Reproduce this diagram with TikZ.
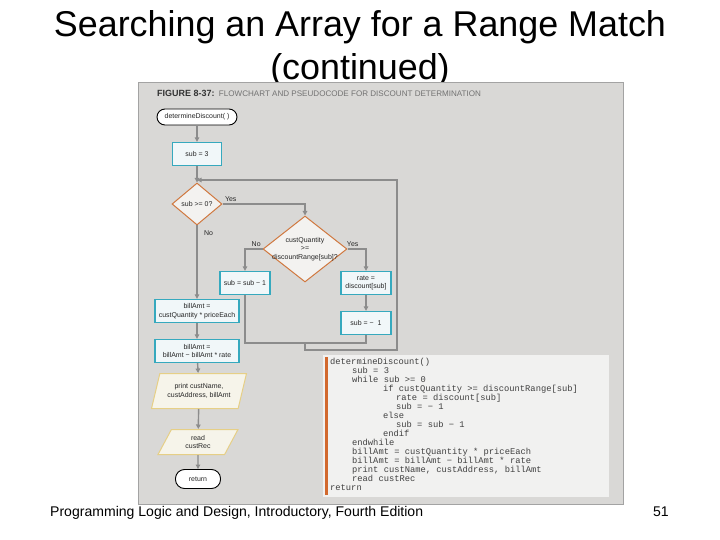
\documentclass[tikz,border=0pt]{standalone}
\usepackage{fontspec}
\setmainfont{Liberation Sans}
\setmonofont{Liberation Mono}
\usepackage{tikz}
\usetikzlibrary{shapes.geometric,arrows.meta}
\definecolor{panelgray}{HTML}{D9D8D6}
\definecolor{panelline}{HTML}{A3A3A3}
\definecolor{flowline}{HTML}{8C8C8C}
\definecolor{boxline}{HTML}{36A9BE}
\definecolor{boxfill}{HTML}{F1F7F9}
\definecolor{decline}{HTML}{D0783F}
\definecolor{decfill}{HTML}{F3F2F0}
\definecolor{ioline}{HTML}{E6CF86}
\definecolor{iofill}{HTML}{F6F4EA}
\definecolor{codefill}{HTML}{F1F1F0}
\definecolor{codebar}{HTML}{D2692E}
\newcommand{\codeind}[1]{\hspace*{#1bp}}

\begin{document}
\begin{tikzpicture}[x=1bp,y=-1bp,
      flowtext/.style={font=\fontsize{7}{8.5}\selectfont, text=black!85, align=center, inner sep=0pt},
      procbox/.style={flowtext, draw=boxline, fill=boxfill, line width=1.3bp, minimum height=23bp},
      decision/.style={diamond, draw=decline, fill=decfill, line width=1bp, inner sep=0pt},
      iobox/.style={flowtext, trapezium, trapezium left angle=65, trapezium right angle=115, trapezium stretches=true, draw=ioline, fill=iofill, line width=1bp},
      termbox/.style={flowtext, draw=black, fill=white, rounded corners=8bp, line width=0.9bp},
      branch/.style={font=\fontsize{7}{8}\selectfont, text=black!85, inner sep=1.5bp},
      flow/.style={draw=flowline, line width=1.4bp},
      flowarrow/.style={flow, -{Triangle[length=4.5bp,width=4.5bp]}}]
  \useasboundingbox (0,0) rectangle (720,540);
  \node[font=\fontsize{36}{43}\selectfont, anchor=base] (title) at (360,37) {Searching an Array for a Range Match};
    \node[font=\fontsize{36}{43}\selectfont, anchor=base] (titleCont) at (360,80) {(continued)};
  \draw[panelline, fill=panelgray, line width=1bp] (138,83) rectangle (623,504);
  \node[font=\fontsize{8.1}{9}\selectfont, anchor=base west, inner sep=0pt, text=black!55] (caption) at (157,97)
      {\textcolor{black!80}{\fontsize{9}{9}\selectfont\bfseries FIGURE 8-37:}\ \ FLOWCHART AND PSEUDOCODE FOR DISCOUNT DETERMINATION};

  \node[termbox, minimum width=80bp, minimum height=16bp] (start) at (197,117) {determineDiscount( )};
  \node[procbox, minimum width=49bp] (init) at (197,154) {sub = 3};
  \node[decision, flowtext, minimum width=50bp, minimum height=42bp] (dOuter) at (197,204) {sub >= 0?};
  \node[decision, minimum width=84bp, minimum height=66bp] (dInner) at (305,249) {};
    \node[flowtext] (dInnerText) at (dInner) {custQuantity\\>=\\discountRange[sub]?};
  \node[procbox, minimum width=50bp] (decSub) at (245,283) {sub = sub − 1};
  \node[procbox, minimum width=50bp] (rateBox) at (366,283) {rate =\\discount[sub]};
  \node[procbox, minimum width=50bp] (negSub) at (366,323) {sub = −\ \ 1};
  \node[procbox, minimum width=84bp] (amtOne) at (197,311) {billAmt =\\custQuantity * priceEach};
  \node[procbox, minimum width=84bp] (amtTwo) at (197,351) {billAmt =\\billAmt − billAmt * rate};
  \node[iobox, minimum width=95bp, minimum height=35bp] (printOut) at (199,391) {print custName,\\custAddress, billAmt};
  \node[iobox, minimum width=80bp, minimum height=25bp] (readIn) at (198,442) {read\\custRec};
  \node[termbox, minimum width=45bp, minimum height=19bp, rounded corners=9bp] (ret) at (198,479) {return};

  \coordinate (loopIn) at (197,180);
  \coordinate (loopTop) at (397,180);
  \coordinate (innerJoin) at (305,343);
  \coordinate (outerJoin) at (305,350);

  \draw[flowarrow] (start) -- (init);
  \draw[flowarrow] (init) -- (dOuter);
  \draw[flowarrow] (dOuter.east) -| (dInner.north) node[branch, pos=0.05, anchor=south] {Yes};
  \draw[flowarrow] (dOuter.south) -- (amtOne) node[branch, pos=0.1, anchor=west, xshift=5bp] {No};
  \draw[flowarrow] (dInner.west) -| (decSub) node[branch, pos=0.18, anchor=south] {No};
  \draw[flowarrow] (dInner.east) -| (rateBox) node[branch, pos=0.14, anchor=south] {Yes};
  \draw[flowarrow] (rateBox) -- (negSub);
  \draw[flow] (decSub.south) |- (innerJoin) -| (negSub.south);
  \draw[flowarrow] (innerJoin) -- (outerJoin) -| (loopTop) -- (loopIn);
  \draw[flowarrow] (amtOne) -- (amtTwo);
  \draw[flowarrow] (amtTwo) -- (printOut);
  \draw[flowarrow] (printOut) -- (readIn);
  \draw[flowarrow] (readIn) -- (ret);

  \fill[codefill] (323,355) rectangle (609,497);
  \fill[codebar] (325,357) rectangle (328,495);
  \node[font=\fontsize{8.8}{9}\selectfont\ttfamily, text=black!75, align=left, anchor=north west, inner sep=0pt] (code) at (330,358)
      {determineDiscount()\\
       \codeind{22}sub = 3\\
       \codeind{22}while sub >= 0\\
       \codeind{53}if custQuantity >= discountRange[sub]\\
       \codeind{66}rate = discount[sub]\\
       \codeind{66}sub = − 1\\
       \codeind{53}else\\
       \codeind{66}sub = sub − 1\\
       \codeind{53}endif\\
       \codeind{22}endwhile\\
       \codeind{22}billAmt = custQuantity * priceEach\\
       \codeind{22}billAmt = billAmt − billAmt * rate\\
       \codeind{22}print custName, custAddress, billAmt\\
       \codeind{22}read custRec\\
       return};

  \node[font=\fontsize{14.1}{17}\selectfont, anchor=base west, inner sep=0pt] (footer) at (50,516) {Programming Logic and Design, Introductory, Fourth Edition};
  \node[font=\fontsize{14.1}{17}\selectfont, anchor=base east, inner sep=0pt] (pageNo) at (669,516) {51};
\end{tikzpicture}
\end{document}
